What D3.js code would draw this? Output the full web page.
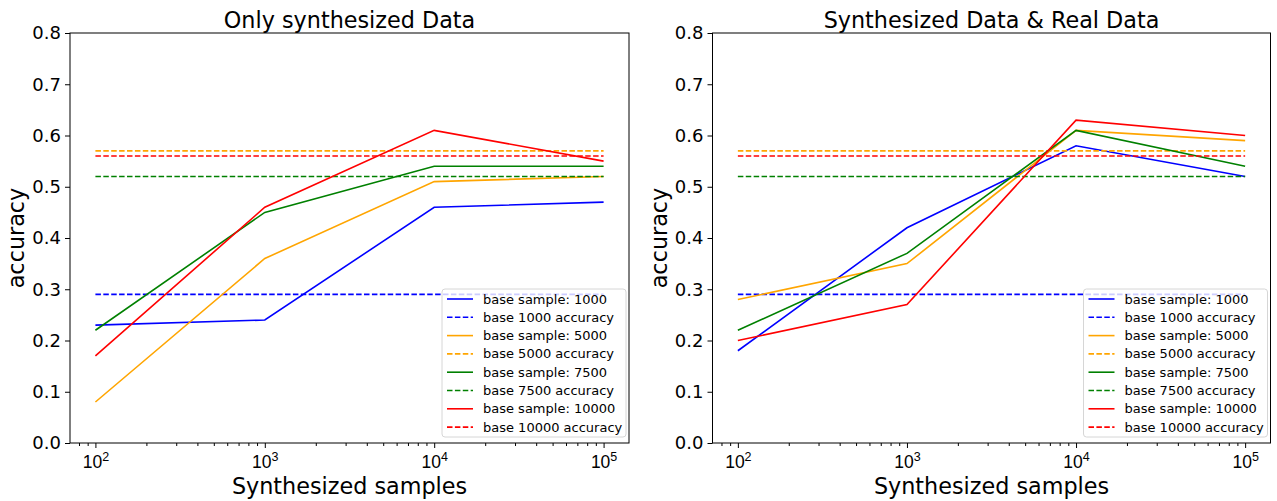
<!DOCTYPE html>
<html><head><meta charset="utf-8">
<script src="https://cdn.jsdelivr.net/npm/d3@7"></script>
<style>body{margin:0;background:#fff}svg{display:block;font-family:"DejaVu Sans",sans-serif}</style>
</head><body><svg id="c" width="1277" height="501"></svg>
<script>
const xs = [100, 1000, 10000, 100000];
const bases = [1000, 5000, 7500, 10000];
const colors = ["blue", "orange", "green", "red"];
const yTicks = [0, 0.1, 0.2, 0.3, 0.4, 0.5, 0.6, 0.7, 0.8];
const titles = ["Only synthesized Data", "Synthesized Data & Real Data"];
// panel 1: only synthesized
const syn1000 = [0.23, 0.24, 0.46, 0.47];
const syn5000 = [0.08, 0.36, 0.51, 0.52];
const syn7500 = [0.22, 0.45, 0.54, 0.54];
const syn10000 = [0.17, 0.46, 0.61, 0.55];
// panel 2: synthesized + real
const mix1000 = [0.18, 0.42, 0.58, 0.52];
const mix5000 = [0.28, 0.35, 0.61, 0.59];
const mix7500 = [0.22, 0.37, 0.61, 0.54];
const mix10000 = [0.20, 0.27, 0.63, 0.60];
const baseAcc = [0.29, 0.57, 0.52, 0.56];

const panels = [
  {title: titles[0], series: [syn1000, syn5000, syn7500, syn10000], left: 70, right: 629},
  {title: titles[1], series: [mix1000, mix5000, mix7500, mix10000], left: 712.5, right: 1270.5}
];
const plotTop = 33, plotBottom = 443;
const svg = d3.select("#c");

panels.forEach(p => {
  const x = d3.scaleLog().domain([Math.pow(10, 1.85), Math.pow(10, 5.15)]).range([p.left, p.right]);
  const y = d3.scaleLinear().domain([0, 0.8]).range([plotBottom, plotTop]);
  const g = svg.append("g");
  const line = d3.line().x((d, i) => x(xs[i])).y(d => y(d));
  p.series.forEach((s, k) => {
    g.append("path").attr("d", line(s)).attr("fill", "none").attr("stroke", colors[k]).attr("stroke-width", 1.6);
    g.append("path").attr("d", d3.line()([[x(xs[0]), y(baseAcc[k])], [x(xs[3]), y(baseAcc[k])]]))
      .attr("fill", "none").attr("stroke", colors[k]).attr("stroke-width", 1.6).attr("stroke-dasharray", "5.5,2.4");
  });
  g.append("rect").attr("x", p.left).attr("y", plotTop).attr("width", p.right - p.left).attr("height", plotBottom - plotTop)
    .attr("fill", "none").attr("stroke", "black").attr("stroke-width", 1);
  const ya = g.append("g").attr("transform", `translate(${p.left},0)`)
    .call(d3.axisLeft(y).tickValues(yTicks).tickFormat(d3.format(".1f")).tickSize(5).tickPadding(4));
  ya.select(".domain").remove();
  ya.selectAll("text").attr("font-size", 18).attr("font-family", "DejaVu Sans").attr("fill", "black");
  const minor = [];
  for (let e = 1; e <= 5; e++) for (let m = 2; m <= 9; m++) { const v = m * Math.pow(10, e); if (v > x.domain()[0] && v < x.domain()[1]) minor.push(v); }
  const xm = g.append("g").attr("transform", `translate(0,${plotBottom})`)
    .call(d3.axisBottom(x).tickValues(minor).tickFormat("").tickSize(3));
  xm.select(".domain").remove();
  const xa = g.append("g").attr("transform", `translate(0,${plotBottom})`)
    .call(d3.axisBottom(x).tickValues(xs).tickFormat("").tickSize(5));
  xa.select(".domain").remove();
  xa.selectAll(".tick").each(function(d) {
    const t = d3.select(this).append("text").attr("y", 25).attr("text-anchor", "middle")
      .attr("font-size", 17.5).attr("fill", "black");
    t.append("tspan").text("10");
    t.append("tspan").attr("dy", -7).attr("font-size", 12.5).text(Math.round(Math.log10(d)));
  });
  const cx = (p.left + p.right) / 2;
  g.append("text").attr("x", cx).attr("y", 27.5).attr("text-anchor", "middle").attr("font-size", 22.3).text(p.title);
  g.append("text").attr("x", cx).attr("y", 494).attr("text-anchor", "middle").attr("font-size", 22.3).text("Synthesized samples");
  g.append("text").attr("transform", `translate(${p.left - 46},${(plotTop + plotBottom) / 2}) rotate(-90)`)
    .attr("text-anchor", "middle").attr("font-size", 22.3).text("accuracy");
  const lw = 184, lh = 148;
  const lx = p.right - 3 - lw, ly = plotBottom - 6 - lh;
  const lg = g.append("g").attr("transform", `translate(${lx},${ly})`);
  lg.append("rect").attr("width", lw).attr("height", lh).attr("rx", 3).attr("fill", "white").attr("fill-opacity", 0.8)
    .attr("stroke", "#d6d6d6").attr("stroke-width", 1);
  const entries = [];
  bases.forEach((b, k) => {
    entries.push({label: `base sample: ${b}`, color: colors[k], dash: null});
    entries.push({label: `base ${b} accuracy`, color: colors[k], dash: "5.5,2.4"});
  });
  entries.forEach((e, i) => {
    const yy = 10 + i * 18.3;
    lg.append("line").attr("x1", 5).attr("x2", 31).attr("y1", yy).attr("y2", yy)
      .attr("stroke", e.color).attr("stroke-width", 1.6).attr("stroke-dasharray", e.dash);
    lg.append("text").attr("x", 41).attr("y", yy + 4.5).attr("font-size", 13).text(e.label);
  });
});
</script></body></html>
